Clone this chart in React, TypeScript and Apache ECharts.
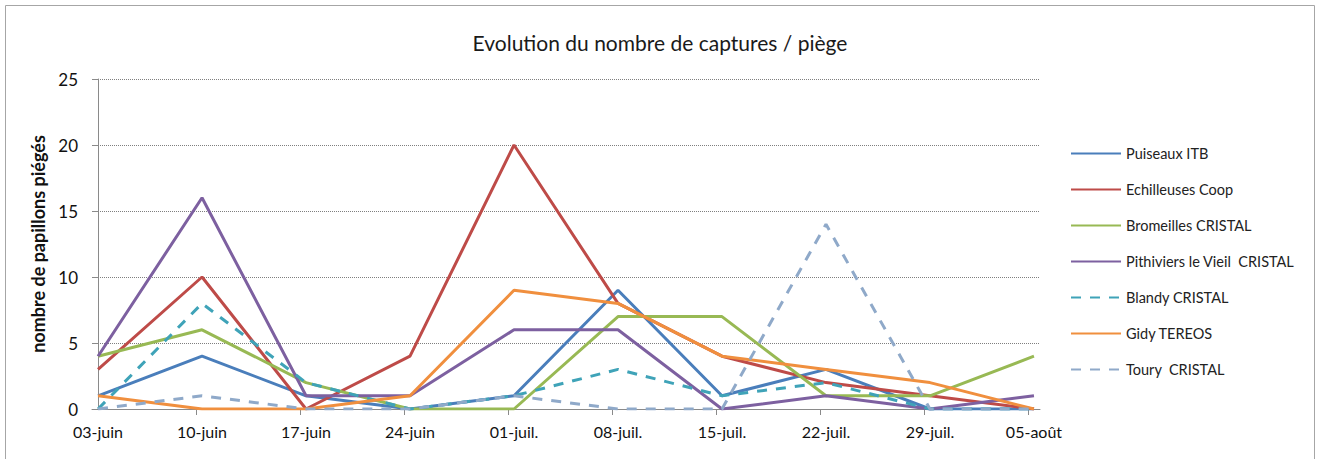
import React, { useEffect, useRef } from "react";
import * as echarts from "echarts";

const categories = ["03-juin", "10-juin", "17-juin", "24-juin", "01-juil.", "08-juil.", "15-juil.", "22-juil.", "29-juil.", "05-août"];
const puiseaux = [1, 4, 1, 0, 1, 9, 1, 3, 0, 0];
const echilleuses = [3, 10, 0, 4, 20, 8, 4, 2, 1, 0];
const bromeilles = [4, 6, 2, 0, 0, 7, 7, 1, 1, 4];
const pithiviers = [4, 16, 1, 1, 6, 6, 0, 1, 0, 1];
const blandy = [0, 8, 2, 0, 1, 3, 1, 2, 0, 0];
const gidy = [1, 0, 0, 1, 9, 8, 4, 3, 2, 0];
const toury = [0, 1, 0, 0, 1, 0, 0, 14, 0, 0];
const yTicks = [0, 5, 10, 15, 20, 25];

const seriesDefs = [
  { name: "Puiseaux ITB", data: puiseaux, color: "#4A7EBB", dashed: false },
  { name: "Echilleuses Coop", data: echilleuses, color: "#BE4B48", dashed: false },
  { name: "Bromeilles CRISTAL", data: bromeilles, color: "#98B954", dashed: false },
  { name: "Pithiviers le Vieil  CRISTAL", data: pithiviers, color: "#7D60A0", dashed: false },
  { name: "Blandy CRISTAL", data: blandy, color: "#3FA3B8", dashed: true },
  { name: "Gidy TEREOS", data: gidy, color: "#F08F3E", dashed: false },
  { name: "Toury  CRISTAL", data: toury, color: "#8FA9C9", dashed: true },
];

const FONT = "Lato, 'Open Sans', sans-serif";

export default function App() {
  const ref = useRef<HTMLDivElement>(null);
  useEffect(() => {
    if (!ref.current) return;
    const chart = echarts.init(ref.current, undefined, { renderer: "svg" });
    chart.setOption({
      animation: false,
      backgroundColor: "#ffffff",
      textStyle: { fontFamily: FONT },
      title: {
        text: "Evolution du nombre de captures / piège",
        left: 655,
        top: 27,
        textAlign: "center",
        textStyle: { fontFamily: FONT, fontSize: 21, fontWeight: "normal", color: "#1a1a1a" },
      },
      graphic: [
        {
          type: "rect",
          shape: { x: 5.5, y: 5.5, width: 1309, height: 470 },
          style: { fill: "none", stroke: "#a6a6a6", lineWidth: 1 },
          silent: true,
        },
      ],
      legend: {
        orient: "vertical",
        left: 1065,
        top: 141,
        itemWidth: 50,
        itemHeight: 14,
        itemGap: 21,
        itemStyle: { opacity: 0 },
        textStyle: { fontFamily: FONT, fontSize: 14.5, color: "#222" },
        data: seriesDefs.map((s) => s.name),
      },
      grid: { left: 92, right: 277, top: 79, bottom: 50, containLabel: false },
      xAxis: {
        type: "value",
        min: -0.058,
        max: 9.058,
        axisLine: { show: true, lineStyle: { color: "#8a8a8a", width: 1 } },
        axisTick: {
          show: true,
          length: 6,
          customValues: [0.942, 1.942, 2.942, 3.942, 4.942, 5.942, 6.942, 7.942, 8.942],
          lineStyle: { color: "#8a8a8a" },
        },
        axisLabel: {
          customValues: categories.map((_, i) => i),
          formatter: (v: number) => categories[Math.round(v)] ?? "",
          fontFamily: FONT,
          fontSize: 16,
          color: "#111",
          margin: 14,
        },
        splitLine: { show: false },
      },
      yAxis: {
        type: "value",
        min: 0,
        max: 25,
        interval: 5,
        name: "nombre de papillons piégés",
        nameLocation: "middle",
        nameGap: 32,
        nameTextStyle: { fontFamily: FONT, fontSize: 18, fontWeight: "bold", color: "#111" },
        axisLine: { show: true, lineStyle: { color: "#8a8a8a", width: 1 } },
        axisTick: { show: true, length: 6, lineStyle: { color: "#8a8a8a" } },
        axisLabel: {
          fontFamily: FONT,
          fontSize: 17,
          color: "#111",
          margin: 14,
          formatter: (v: number) => (yTicks.includes(v) ? String(v) : ""),
        },
        splitLine: { show: true, lineStyle: { color: "#7f7f7f", type: "dotted", width: 1 } },
      },
      series: seriesDefs.map((s) => ({
        name: s.name,
        type: "line",
        data: s.data.map((v, i) => [i, v]),
        symbol: "none",
        color: s.color,
        lineStyle: {
          color: s.color,
          width: 3,
          type: s.dashed ? [10, 9] : "solid",
        },
        itemStyle: { color: s.color },
      })),
    });
    return () => chart.dispose();
  }, []);
  return (
    <div
      ref={ref}
      style={{ position: "fixed", left: 0, top: 0, width: 1317, height: 459, background: "#fff" }}
    />
  );
}
